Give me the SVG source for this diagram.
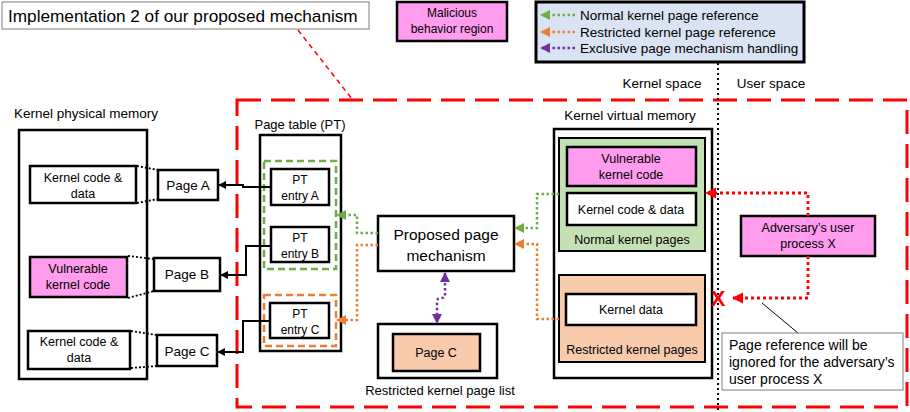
<svg xmlns="http://www.w3.org/2000/svg" width="910" height="412" viewBox="0 0 910 412">
<style>
text{font-family:"Liberation Sans",Arial,sans-serif;fill:#000}
.t12{font-size:12.5px;text-anchor:middle}
.t13{font-size:13.5px;text-anchor:middle}
.box{fill:#fff;stroke:#000;stroke-width:2.5}
.pink{fill:#FF9CEE;stroke:#000;stroke-width:2.5}
.blk{fill:none;stroke:#000;stroke-width:2}
.dot{fill:none;stroke:#000;stroke-width:1.8;stroke-dasharray:2 2}
.g{fill:none;stroke:#70AD47;stroke-width:2.5;stroke-dasharray:2.5 2.5}
.o{fill:none;stroke:#ED7D31;stroke-width:2.5;stroke-dasharray:2.5 2.5}
.p{fill:none;stroke:#7030A0;stroke-width:2.5;stroke-dasharray:2.5 2.5}
.r{fill:none;stroke:#FF0000;stroke-width:2.8;stroke-dasharray:3 3}
</style>
<defs>
<marker id="ab" viewBox="0 0 10 10" refX="9" refY="5" markerWidth="4" markerHeight="4" orient="auto" markerUnits="strokeWidth"><path d="M0,0 L10,5 L0,10 z" fill="#000"/></marker>
<marker id="ag" viewBox="0 0 10 10" refX="9" refY="5" markerWidth="4" markerHeight="4" orient="auto" markerUnits="strokeWidth"><path d="M0,0 L10,5 L0,10 z" fill="#70AD47"/></marker>
<marker id="ao" viewBox="0 0 10 10" refX="9" refY="5" markerWidth="4" markerHeight="4" orient="auto" markerUnits="strokeWidth"><path d="M0,0 L10,5 L0,10 z" fill="#ED7D31"/></marker>
<marker id="ap" viewBox="0 0 10 10" refX="9" refY="5" markerWidth="4" markerHeight="4" orient="auto-start-reverse" markerUnits="strokeWidth"><path d="M0,0 L10,5 L0,10 z" fill="#7030A0"/></marker>
<marker id="ar" viewBox="0 0 10 10" refX="9" refY="5" markerWidth="4" markerHeight="4" orient="auto" markerUnits="strokeWidth"><path d="M0,0 L10,5 L0,10 z" fill="#FF0000"/></marker>
</defs>

<!-- background regions -->
<rect x="237" y="100" width="670" height="307" fill="none" stroke="#FF0000" stroke-width="3" stroke-dasharray="24 10"/>
<line x1="718" y1="63" x2="718" y2="410" stroke="#000" stroke-width="2" stroke-dasharray="2 3"/>

<g id="title">
<rect x="2" y="2" width="367" height="27" fill="#fff" stroke="#7F7F7F" stroke-width="1"/>
<text x="8" y="22" style="font-size:17.2px">Implementation 2 of our proposed mechanism</text>
<line x1="298" y1="30" x2="352" y2="99" stroke="#FF0000" stroke-width="1.5" stroke-dasharray="5 4"/>
</g>

<g id="malicious-legend">
<rect x="397" y="2" width="110" height="39" class="pink" stroke-width="3"/>
<text class="t12" x="452" y="17" style="font-size:12px">Malicious</text>
<text class="t12" x="452" y="33" style="font-size:12px">behavior region</text>
</g>

<g id="legend">
<rect x="536" y="2" width="268" height="60" fill="#DAE3F3" stroke="#000" stroke-width="3"/>
<line x1="575" y1="15" x2="541" y2="15" class="g" marker-end="url(#ag)"/>
<line x1="575" y1="32" x2="541" y2="32" class="o" marker-end="url(#ao)"/>
<line x1="575" y1="48" x2="541" y2="48" class="p" marker-end="url(#ap)"/>
<text x="580" y="20" style="font-size:13.5px">Normal kernel page reference</text>
<text x="580" y="37" style="font-size:13.5px">Restricted kernel page reference</text>
<text x="580" y="53" style="font-size:13.5px">Exclusive page mechanism handling</text>
</g>

<g id="space-labels">
<text x="662" y="88" class="t13">Kernel space</text>
<text x="771" y="88" class="t13">User space</text>
</g>

<g id="physical-memory">
<text x="14" y="118" style="font-size:13.5px">Kernel physical memory</text>
<rect x="19" y="130" width="128" height="249" class="box"/>
<rect x="30" y="166" width="106" height="37" class="box"/>
<text class="t12" x="83" y="182">Kernel code &amp;</text>
<text class="t12" x="83" y="198">data</text>
<rect x="30" y="257" width="97" height="40" class="pink"/>
<text class="t12" x="78" y="273">Vulnerable</text>
<text class="t12" x="78" y="289">kernel code</text>
<rect x="28" y="331" width="102" height="38" class="box"/>
<text class="t12" x="79" y="346">Kernel code &amp;</text>
<text class="t12" x="79" y="362">data</text>
</g>

<g id="page-a"><rect x="158" y="170" width="60" height="30" class="box"/><text class="t13" x="188" y="190">Page A</text></g>
<g id="page-b"><rect x="154" y="258" width="66" height="33" class="box"/><text class="t13" x="187" y="279">Page B</text></g>
<g id="page-c"><rect x="157" y="335" width="60" height="31" class="box"/><text class="t13" x="187" y="356">Page C</text></g>

<g id="page-table">
<text x="300" y="129" class="t13" style="font-size:13px">Page table (PT)</text>
<rect x="260" y="135" width="81" height="216" class="box"/>
<rect x="264" y="161" width="72" height="108" fill="none" stroke="#70AD47" stroke-width="2.5" stroke-dasharray="7 4"/>
<rect x="264" y="295" width="72" height="51" fill="none" stroke="#ED7D31" stroke-width="2.5" stroke-dasharray="7 4"/>
<rect x="271" y="169" width="58" height="36" class="box"/>
<text class="t12" x="300" y="184" style="font-size:12px">PT</text>
<text class="t12" x="300" y="200" style="font-size:12px">entry A</text>
<rect x="271" y="227" width="58" height="35" class="box"/>
<text class="t12" x="300" y="242" style="font-size:12px">PT</text>
<text class="t12" x="300" y="258" style="font-size:12px">entry B</text>
<rect x="270" y="303" width="59" height="35" class="box"/>
<text class="t12" x="300" y="318" style="font-size:12px">PT</text>
<text class="t12" x="300" y="334" style="font-size:12px">entry C</text>
</g>

<g id="mechanism">
<rect x="378" y="216" width="136" height="55" class="box"/>
<text class="t13" x="446" y="240" style="font-size:15.5px">Proposed page</text>
<text class="t13" x="446" y="261" style="font-size:15.5px">mechanism</text>
</g>

<g id="restricted-list">
<rect x="378" y="324" width="119" height="54" class="box"/>
<rect x="393" y="334" width="87" height="37" fill="#F8CBAD" stroke="#000" stroke-width="2.5"/>
<text class="t12" x="436" y="357">Page C</text>
<text class="t13" x="440" y="395" style="font-size:13px">Restricted kernel page list</text>
</g>

<g id="virtual-memory">
<text x="630" y="120" class="t13">Kernel virtual memory</text>
<rect x="554" y="129" width="158" height="249" class="box"/>
<rect x="559" y="138" width="146" height="113" fill="#C5E0B4" stroke="#000" stroke-width="2"/>
<rect x="567" y="147" width="129" height="39" class="pink"/>
<text class="t12" x="631" y="163">Vulnerable</text>
<text class="t12" x="631" y="179">kernel code</text>
<rect x="567" y="193" width="129" height="32" class="box"/>
<text class="t12" x="631" y="214">Kernel code &amp; data</text>
<text class="t12" x="632" y="244">Normal kernel pages</text>
<rect x="559" y="275" width="146" height="87" fill="#F8CBAD" stroke="#000" stroke-width="2"/>
<rect x="566" y="294" width="130" height="31" class="box"/>
<text class="t12" x="631" y="314">Kernel data</text>
<text class="t12" x="632" y="354">Restricted kernel pages</text>
</g>

<g id="adversary">
<rect x="741" y="216" width="134" height="40" class="pink"/>
<text class="t12" x="808" y="232">Adversary’s user</text>
<text class="t12" x="808" y="248">process X</text>
</g>

<g id="callout">
<line x1="762" y1="303" x2="798" y2="333" stroke="#000" stroke-width="1"/>
<rect x="722" y="333" width="181" height="57" fill="#fff" stroke="#7F7F7F" stroke-width="1"/>
<text x="729" y="350" style="font-size:14px">Page reference will be</text>
<text x="729" y="367" style="font-size:14px">ignored for the adversary’s</text>
<text x="729" y="384" style="font-size:14px">user process X</text>
</g>

<g id="connectors">
<!-- physical memory to pages -->
<line x1="137" y1="166" x2="158" y2="170" class="dot"/>
<line x1="137" y1="203" x2="158" y2="199" class="dot"/>
<line x1="128" y1="256" x2="154" y2="259" class="dot"/>
<line x1="128" y1="298" x2="154" y2="291" class="dot"/>
<line x1="131" y1="331" x2="157" y2="335" class="dot"/>
<line x1="131" y1="368" x2="157" y2="366" class="dot"/>
<!-- PT entries to pages -->
<path d="M271,187 H243 V185 H219" class="blk" marker-end="url(#ab)"/>
<path d="M271,246 H246 V275 H221" class="blk" marker-end="url(#ab)"/>
<path d="M270,321 H243 V352 H218" class="blk" marker-end="url(#ab)"/>
<!-- mechanism to PT -->
<path d="M378,233 H357 V215 H337" class="g" marker-end="url(#ag)"/>
<path d="M378,245 H357 V320 H337" class="o" marker-end="url(#ao)"/>
<!-- virtual memory to mechanism -->
<path d="M559,194 H537 V228 H515" class="g" marker-end="url(#ag)"/>
<path d="M559,319 H537 V244 H515" class="o" marker-end="url(#ao)"/>
<!-- mechanism to restricted list -->
<path d="M445,273 V296 Q445,298 441,298 Q437,298 437,302 V323" class="p" marker-start="url(#ap)" marker-end="url(#ap)"/>
<!-- adversary references -->
<path d="M808,216 V193 H706" class="r" marker-end="url(#ar)"/>
<path d="M808,256 V298 H733" class="r" marker-end="url(#ar)"/>
<text x="718" y="306" style="font-size:22px;font-weight:bold;fill:#FF0000;text-anchor:middle">X</text>
</g>
</svg>
